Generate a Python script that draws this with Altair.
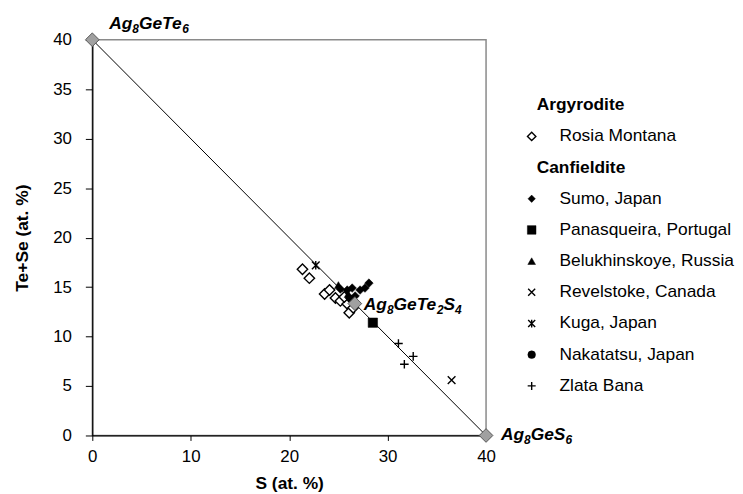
import altair as alt
import pandas as pd

# ---------------- data ----------------
rosia_x = [21.35, 22.05, 23.6, 24.1, 24.7, 25.2, 25.9, 26.1, 26.5, 25.6]
rosia_y = [16.8, 15.9, 14.3, 14.7, 13.9, 13.6, 13.3, 12.4, 12.9, 14.0]

sumo_x = [28.1, 27.7, 27.2, 26.4, 25.9, 25.2, 26.7, 26.1]
sumo_y = [15.4, 14.9, 14.7, 14.9, 14.7, 14.8, 14.1, 13.9]

panas_x = [28.5]
panas_y = [11.4]

beluk_x = [25.0, 26.0]
beluk_y = [15.2, 14.3]

revel_x = [36.5]
revel_y = [5.6]

kuga_x = [22.7]
kuga_y = [17.2]

nakat_x = [26.3]
nakat_y = [13.8]

zlata_x = [31.1, 32.6, 31.7]
zlata_y = [9.3, 8.0, 7.2]

end_x = [0, 26.67, 40]
end_y = [40, 13.33, 0]
end_labels = ["Ag8GeTe6", "Ag8GeTe2S4", "Ag8GeS6"]

line_x = [0, 40]
line_y = [40, 0]

x_ticks = [0, 10, 20, 30, 40]
y_ticks = [0, 5, 10, 15, 20, 25, 30, 35, 40]

legend_rows = ["Argyrodite", "Rosia Montana", "Canfieldite", "Sumo, Japan",
               "Panasqueira, Portugal", "Belukhinskoye, Russia",
               "Revelstoke, Canada", "Kuga, Japan", "Nakatatsu, Japan", "Zlata Bana"]
legend_is_header = [True, False, True, False, False, False, False, False, False, False]

FONT = "Liberation Sans"
FS = 17.5

# ---------------- symbols ----------------
X_PATH = "M-1,-1L1,1M-1,1L1,-1"
KUGA_PATH = "M-1,-1L1,1M-1,1L1,-1M0,-1.1L0,1.1"
PLUS_PATH = "M-1,0L1,0M0,-1L0,1"

# (shape, kind, plot size, legend size)
series_style = {
    "Rosia Montana": ("diamond", "open", 110, 72),
    "Sumo, Japan": ("diamond", "filled", 75, 55),
    "Panasqueira, Portugal": ("square", "filled", 90, 75),
    "Belukhinskoye, Russia": ("triangle-up", "filled", 65, 60),
    "Revelstoke, Canada": (X_PATH, "stroke", 60, 50),
    "Kuga, Japan": (KUGA_PATH, "stroke", 60, 50),
    "Nakatatsu, Japan": ("circle", "filled", 65, 60),
    "Zlata Bana": (PLUS_PATH, "stroke", 75, 65),
}
series_data = {
    "Rosia Montana": (rosia_x, rosia_y),
    "Sumo, Japan": (sumo_x, sumo_y),
    "Panasqueira, Portugal": (panas_x, panas_y),
    "Belukhinskoye, Russia": (beluk_x, beluk_y),
    "Revelstoke, Canada": (revel_x, revel_y),
    "Kuga, Japan": (kuga_x, kuga_y),
    "Nakatatsu, Japan": (nakat_x, nakat_y),
    "Zlata Bana": (zlata_x, zlata_y),
}


def point_mark(df, shape, kind, size):
    if kind == "open":
        return alt.Chart(df).mark_point(shape=shape, filled=True, fill="white",
                                        stroke="black", strokeWidth=1.4, size=size, opacity=1)
    if kind == "filled":
        return alt.Chart(df).mark_point(shape=shape, filled=True, fill="black",
                                        stroke="black", strokeWidth=0.5, size=size, opacity=1)
    return alt.Chart(df).mark_point(shape=shape, filled=False, stroke="black",
                                    strokeWidth=1.4, size=size, opacity=1)


xscale = alt.Scale(domain=[0, 40], nice=False, zero=False)
yscale = alt.Scale(domain=[0, 40], nice=False, zero=False)

xaxis = alt.X("x:Q", scale=xscale, title="S (at. %)",
              axis=alt.Axis(values=x_ticks, grid=False, tickSize=5, labelPadding=8,
                            labelFlush=False, labelOverlap=False,
                            labelFontSize=17, titleFontSize=FS, titleFontWeight="bold",
                            titlePadding=10, domainColor="black", tickColor="black",
                            domainWidth=1.3, labelColor="black", titleColor="black",
                            labelFont=FONT, titleFont=FONT))
yaxis = alt.Y("y:Q", scale=yscale, title="Te+Se (at. %)",
              axis=alt.Axis(values=y_ticks, grid=False, tickSize=7, labelPadding=14,
                            labelFlush=False, labelOverlap=False,
                            labelFontSize=17, titleFontSize=FS, titleFontWeight="bold",
                            titlePadding=21, domainColor="black", tickColor="black",
                            domainWidth=1.3, labelColor="black", titleColor="black",
                            labelFont=FONT, titleFont=FONT))

line_df = pd.DataFrame({"x": line_x, "y": line_y})
line = alt.Chart(line_df).mark_line(color="black", strokeWidth=1).encode(x=xaxis, y=yaxis)

layers = [line]
for name, (xs, ys) in series_data.items():
    shape, kind, psize, _ = series_style[name]
    df = pd.DataFrame({"x": xs, "y": ys})
    layers.append(point_mark(df, shape, kind, psize).encode(x="x:Q", y="y:Q"))

end_df = pd.DataFrame({"x": end_x, "y": end_y, "label": end_labels})
end_pts = alt.Chart(end_df).mark_point(shape="diamond", filled=True, fill="#a0a0a0",
                                       stroke="#555555", strokeWidth=1, size=190,
                                       opacity=1).encode(x="x:Q", y="y:Q")
layers.append(end_pts)

# chemical-formula labels with subscripts (Arial-metric advance widths)
CHAR_W = {"A": 0.722, "g": 0.611, "G": 0.778, "e": 0.556, "T": 0.611, "S": 0.667}
SUB_FS = 12
label_offsets = [(17, -11), (9, 6), (15, 5)]  # (dx, baseline dy) from the point


def split_formula(s):
    parts = []
    for ch in s:
        sub = ch.isdigit()
        if parts and parts[-1][1] == sub:
            parts[-1] = (parts[-1][0] + ch, sub)
        else:
            parts.append((ch, sub))
    return parts


for i, lab in enumerate(end_labels):
    dx0, dy0 = label_offsets[i]
    cur = dx0
    for text, sub in split_formula(lab):
        seg_df = pd.DataFrame({"x": [end_x[i]], "y": [end_y[i]], "t": [text]})
        fs = SUB_FS if sub else FS
        layers.append(alt.Chart(seg_df).mark_text(
            dx=cur, dy=dy0 + (4 if sub else 0), align="left", baseline="alphabetic",
            font=FONT, fontSize=fs, fontWeight="bold", fontStyle="italic", color="black"
        ).encode(x="x:Q", y="y:Q", text="t:N"))
        if sub:
            cur += 0.556 * fs * len(text)
        else:
            cur += sum(CHAR_W.get(c, 0.6) for c in text) * fs

main = alt.layer(*layers).properties(width=397, height=399)

# ---------------- legend panel ----------------
leg_df = pd.DataFrame({"row": list(range(len(legend_rows))), "label": legend_rows,
                       "header": legend_is_header})
lx = alt.Scale(domain=[0, 6], nice=False, zero=False)
ly = alt.Scale(domain=[-2.099, 10.59], nice=False, zero=False, reverse=True)

leg_layers = []
hdr = alt.Chart(leg_df[leg_df["header"]]).transform_calculate(xpos="0").mark_text(
    align="left", baseline="middle", font=FONT, fontSize=FS, fontWeight="bold",
    color="black", dx=5).encode(
    x=alt.X("xpos:Q", scale=lx, axis=None), y=alt.Y("row:Q", scale=ly, axis=None),
    text="label:N")
leg_layers.append(hdr)
items = alt.Chart(leg_df[~leg_df["header"]]).transform_calculate(xpos="1").mark_text(
    align="left", baseline="middle", font=FONT, fontSize=FS, color="black").encode(
    x=alt.X("xpos:Q", scale=lx, axis=None), y=alt.Y("row:Q", scale=ly, axis=None),
    text="label:N")
leg_layers.append(items)

for i, name in enumerate(legend_rows):
    if legend_is_header[i]:
        continue
    shape, kind, _, lsize = series_style[name]
    sub = leg_df[leg_df["label"] == name]
    leg_layers.append(point_mark(sub, shape, kind, lsize).transform_calculate(xpos="0").encode(
        x=alt.X("xpos:Q", scale=lx, axis=None), y=alt.Y("row:Q", scale=ly, axis=None)))

legend = alt.layer(*leg_layers).properties(
    width=168, height=399, view=alt.ViewBackground(strokeOpacity=0))

chart = alt.hconcat(main, legend, spacing=46, bounds="flush").configure_view(
    stroke="#8a8a8a", strokeWidth=1.5
).properties(background="white", padding={"top": 4, "left": 5, "right": 0, "bottom": 0})

chart.save("out.html", embed_options={"renderer": "svg", "actions": False})
